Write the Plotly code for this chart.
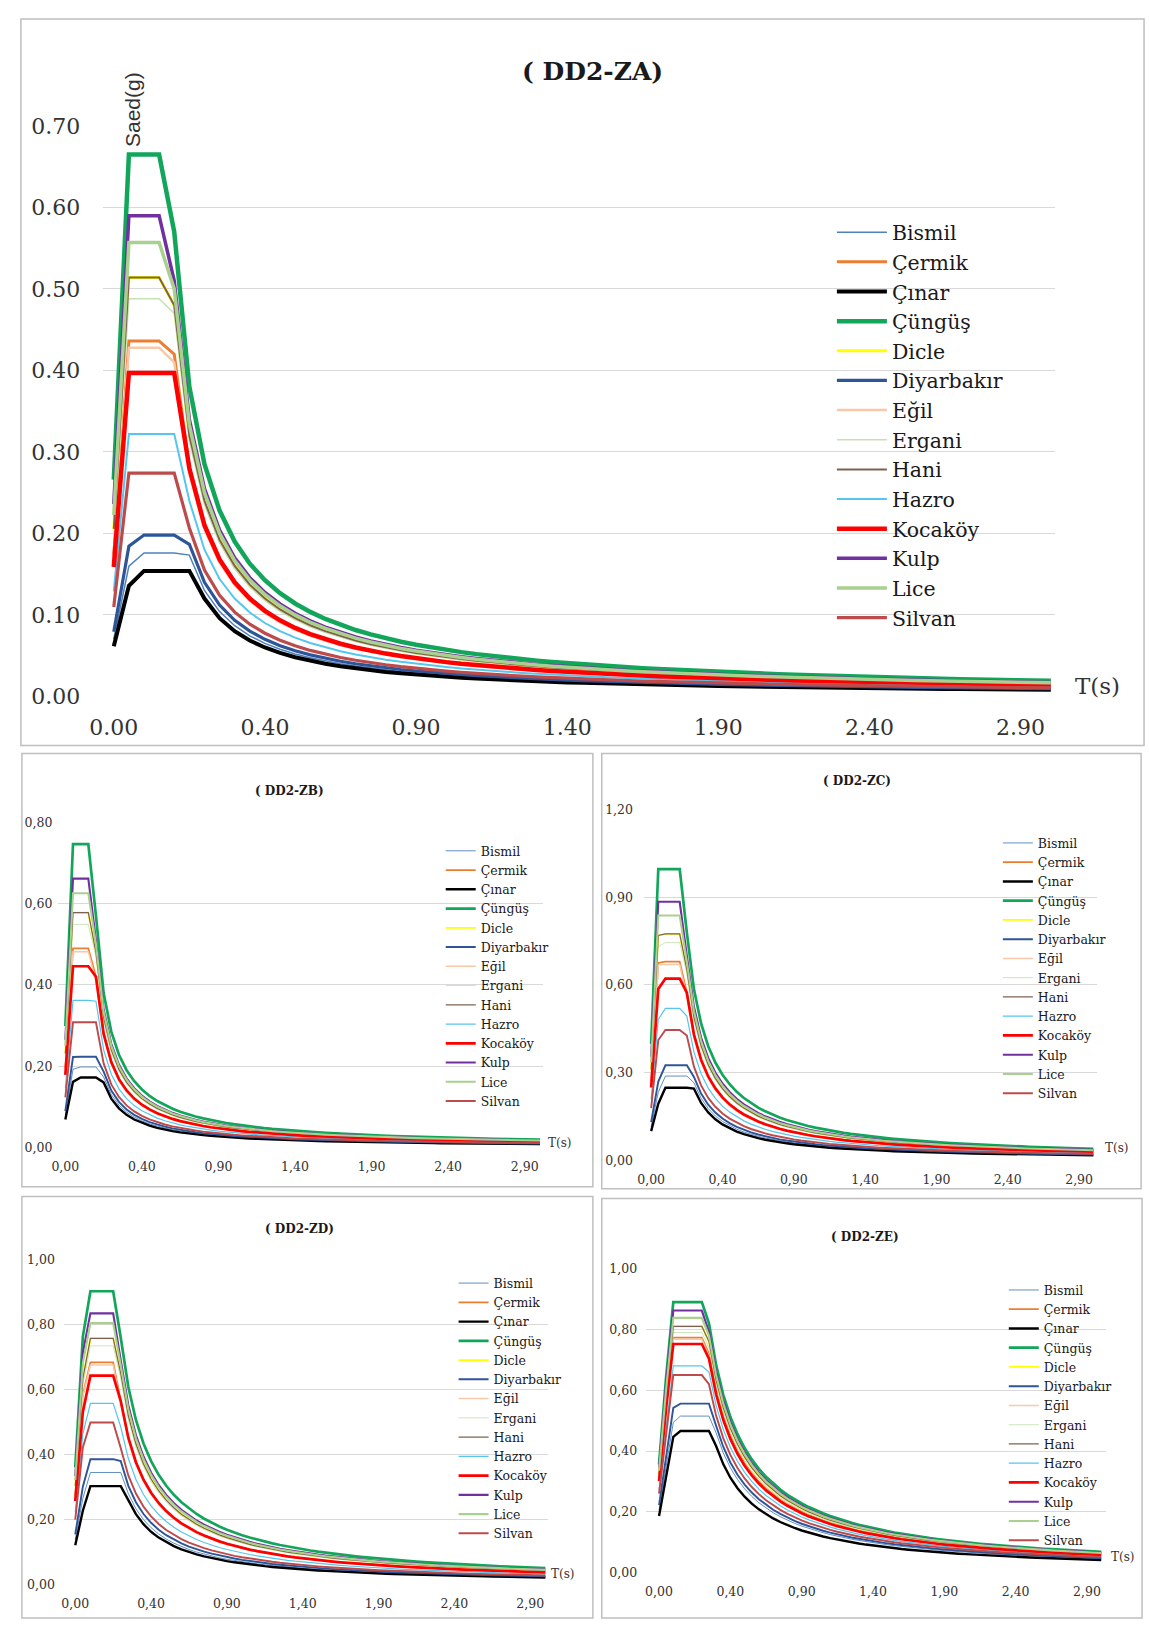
import plotly.graph_objects as go

# ---------------------------------------------------------------------------
# Elastic design spectra (DD2 level) for the districts of Diyarbakır,
# one panel per local soil class (ZA ... ZE).
# ---------------------------------------------------------------------------

CITIES = ["Bismil", "Çermik", "Çınar", "Çüngüş", "Dicle", "Diyarbakır", "Eğil",
          "Ergani", "Hani", "Hazro", "Kocaköy", "Kulp", "Lice", "Silvan"]

# Period values used as the (category) x axis of every panel, in seconds
PERIODS = [0.00, 0.025, 0.05, 0.075, 0.10, 0.15, 0.20, 0.25, 0.30, 0.35, 0.40,
           0.45, 0.50, 0.55, 0.60, 0.65, 0.70, 0.75, 0.80, 0.85, 0.90,
           0.95, 1.00, 1.05, 1.10, 1.15, 1.20, 1.25, 1.30, 1.35, 1.40,
           1.45, 1.50, 1.55, 1.60, 1.65, 1.70, 1.75, 1.80, 1.85, 1.90,
           1.95, 2.00, 2.05, 2.10, 2.15, 2.20, 2.25, 2.30, 2.35, 2.40,
           2.45, 2.50, 2.55, 2.60, 2.65, 2.70, 2.75, 2.80, 2.85, 2.90,
           2.95, 3.00]
TL = 6.0  # long-period transition, s

# Short-period (SDS) and 1-second (SD1) design spectral accelerations, g
SDS_ZA = [0.176, 0.436, 0.154, 0.665, 0.514, 0.198, 0.428, 0.488, 0.514, 0.322, 0.397, 0.590, 0.557, 0.274]
SD1_ZA = [0.026, 0.042, 0.024, 0.057, 0.048, 0.028, 0.041, 0.047, 0.048, 0.036, 0.042, 0.051, 0.050, 0.031]

SDS_ZB = [0.198, 0.490, 0.172, 0.747, 0.578, 0.223, 0.482, 0.549, 0.578, 0.362, 0.446, 0.662, 0.626, 0.308]
SD1_ZB = [0.026, 0.042, 0.024, 0.057, 0.048, 0.028, 0.041, 0.047, 0.048, 0.036, 0.042, 0.051, 0.050, 0.031]

SDS_ZC = [0.288, 0.680, 0.248, 0.997, 0.775, 0.325, 0.670, 0.745, 0.775, 0.520, 0.622, 0.885, 0.838, 0.446]
SD1_ZC = [0.053, 0.086, 0.049, 0.117, 0.098, 0.057, 0.084, 0.096, 0.098, 0.074, 0.086, 0.105, 0.102, 0.064]

SDS_ZD = [0.345, 0.684, 0.303, 0.903, 0.758, 0.386, 0.676, 0.735, 0.758, 0.558, 0.643, 0.835, 0.805, 0.499]
SD1_ZD = [0.070, 0.113, 0.065, 0.152, 0.130, 0.076, 0.111, 0.127, 0.130, 0.097, 0.113, 0.138, 0.135, 0.084]

SDS_ZE = [0.515, 0.773, 0.466, 0.890, 0.810, 0.556, 0.768, 0.790, 0.810, 0.680, 0.752, 0.862, 0.838, 0.650]
SD1_ZE = [0.138, 0.180, 0.125, 0.205, 0.190, 0.145, 0.178, 0.185, 0.190, 0.165, 0.176, 0.198, 0.195, 0.155]

X_TICK_IDX = [0, 10, 20, 30, 40, 50, 60]

COLORS = ["#4F81BD", "#ED7D31", "#000000", "#12A65A", "#FFFF00", "#2E5597", "#F8C8A8",
          "#C6E2B4", "#7F6050", "#55C6F0", "#FF0000", "#7030A0", "#A9D08E", "#BE4B4B"]
WIDTHS = [1.5, 3.0, 4.0, 4.5, 3.0, 3.2, 2.5, 1.5, 2.0, 2.0, 4.5, 3.5, 3.5, 3.2]


def design_spectrum(sds, sd1):
    """Horizontal elastic design spectrum Sae(T) on the PERIODS grid."""
    tb = sd1 / sds
    ta = 0.2 * tb
    values = []
    for t in PERIODS:
        if t < ta:
            values.append((0.4 + 0.6 * t / ta) * sds)
        elif t <= tb:
            values.append(sds)
        elif t <= TL:
            values.append(sd1 / t)
        else:
            values.append(sd1 * TL / t ** 2)
    return values


W, H = 1149, 1632
categories = [f"{t:.3f}" for t in PERIODS]


def px_x(v):
    return v / W


def px_y(v):
    return 1 - v / H


SERIF = "DejaVu Serif"
TEXT = "#333333"

panels = [
    dict(title="( DD2-ZA)", sds=SDS_ZA, sd1=SD1_ZA, sep=".", ymax=0.70, dtick=0.10,
         xdom=(90.3, 1054.2), ydom=(695, 115.5), xr=(-0.7, 62.3),
         frame=(7, 7, 1144, 745), title_xy=(586, 60), title_size=25,
         ts_xy=(1097, 684), ts_size=23, tick_size=22, y_std=22, x_std=16,
         leg_xy=(828, 203.5), leg_size=20.5, leg_iw=50, wscale=1.0),
    dict(title="( DD2-ZB)", sds=SDS_ZB, sd1=SD1_ZB, sep=",", ymax=0.80, dtick=0.20,
         xdom=(45.0, 535.6), ydom=(1153, 823), xr=(-0.9, 62.4),
         frame=(8, 753, 586, 1193), title_xy=(279, 791), title_size=12,
         ts_xy=(553, 1149), ts_size=12, tick_size=12.5, y_std=5, x_std=10,
         leg_xy=(432, 837), leg_size=12.5, leg_iw=30, wscale=0.6),
    dict(title="( DD2-ZC)", sds=SDS_ZC, sd1=SD1_ZC, sep=",", ymax=1.20, dtick=0.30,
         xdom=(637.8, 1096.3), ydom=(1166, 810), xr=(-1.0, 62.5),
         frame=(595, 753, 1141, 1195), title_xy=(853, 781), title_size=12,
         ts_xy=(1117, 1154), ts_size=12, tick_size=12.5, y_std=10, x_std=10,
         leg_xy=(996, 829), leg_size=12.5, leg_iw=30, wscale=0.6),
    dict(title="( DD2-ZD)", sds=SDS_ZD, sd1=SD1_ZD, sep=",", ymax=1.00, dtick=0.20,
         xdom=(50.5, 541.0), ydom=(1597, 1267), xr=(-1.5, 62.4),
         frame=(8, 1203, 586, 1631), title_xy=(289, 1236), title_size=12,
         ts_xy=(556, 1586), ts_size=12, tick_size=12.5, y_std=8, x_std=10,
         leg_xy=(445, 1276), leg_size=12.5, leg_iw=30, wscale=0.6),
    dict(title="( DD2-ZE)", sds=SDS_ZE, sd1=SD1_ZE, sep=",", ymax=1.00, dtick=0.20,
         xdom=(640.0, 1105.0), ydom=(1585, 1276), xr=(-1.8, 62.6),
         frame=(595, 1205, 1142, 1631), title_xy=(861, 1244), title_size=12,
         ts_xy=(1123, 1569), ts_size=12, tick_size=12.5, y_std=8, x_std=10,
         leg_xy=(1002, 1283), leg_size=12.5, leg_iw=30, wscale=0.6),
]

fig = go.Figure()
shapes, annotations = [], []
layout = {}

for k, p in enumerate(panels):
    sfx = "" if k == 0 else str(k + 1)
    xname, yname, lname = "x" + sfx, "y" + sfx, "legend" + sfx

    for i, city in enumerate(CITIES):
        fig.add_trace(go.Scatter(
            x=categories, y=design_spectrum(p["sds"][i], p["sd1"][i]),
            mode="lines", name=city,
            line=dict(color=COLORS[i], width=WIDTHS[i] * p["wscale"]),
            xaxis=xname, yaxis=yname, legend=lname, hoverinfo="skip"))

    nticks = int(round(p["ymax"] / p["dtick"]))
    yvals = [round(j * p["dtick"], 2) for j in range(nticks + 1)]
    ytext = [f"{v:.2f}".replace(".", p["sep"]) for v in yvals]
    xtext = [f"{PERIODS[j]:.2f}".replace(".", p["sep"]) for j in X_TICK_IDX]

    layout["xaxis" + sfx] = dict(
        domain=[px_x(p["xdom"][0]), px_x(p["xdom"][1])], anchor=yname,
        type="category", categoryorder="array", categoryarray=categories,
        range=list(p["xr"]), tickvals=[categories[j] for j in X_TICK_IDX],
        ticktext=xtext, showgrid=False, zeroline=False, showline=False,
        ticks="", ticklabelstandoff=p["x_std"],
        tickfont=dict(family=SERIF, size=p["tick_size"], color=TEXT), fixedrange=True)
    layout["yaxis" + sfx] = dict(
        domain=[px_y(p["ydom"][0]), px_y(p["ydom"][1])], anchor=xname,
        range=[0, p["ymax"] * 1.0005], tickvals=yvals, ticktext=ytext,
        showgrid=True, gridcolor="#D9D9D9", gridwidth=1, zeroline=False,
        showline=False, ticks="", ticklabelstandoff=p["y_std"],
        tickfont=dict(family=SERIF, size=p["tick_size"], color=TEXT), fixedrange=True)
    layout[lname] = dict(
        x=px_x(p["leg_xy"][0]), y=px_y(p["leg_xy"][1]), xanchor="left", yanchor="top",
        bgcolor="rgba(0,0,0,0)", borderwidth=0, itemwidth=p["leg_iw"],
        tracegroupgap=0, itemclick=False, itemdoubleclick=False,
        font=dict(family=SERIF, size=p["leg_size"], color="#1A1A1A"))

    x0, y0, x1, y1 = p["frame"]
    shapes.append(dict(type="rect", xref="paper", yref="paper",
                       x0=px_x(x0), x1=px_x(x1), y0=px_y(y1), y1=px_y(y0),
                       line=dict(color="#BFBFBF", width=1.5), layer="below"))
    annotations.append(dict(text="<b>" + p["title"] + "</b>", xref="paper", yref="paper",
                            x=px_x(p["title_xy"][0]), y=px_y(p["title_xy"][1]),
                            xanchor="center", yanchor="middle", showarrow=False,
                            font=dict(family=SERIF, size=p["title_size"], color="#1A1A1A")))
    annotations.append(dict(text="T(s)", xref="paper", yref="paper",
                            x=px_x(p["ts_xy"][0]), y=px_y(p["ts_xy"][1]),
                            xanchor="center", yanchor="middle", showarrow=False,
                            font=dict(family=SERIF, size=p["ts_size"], color=TEXT)))

# Vertical axis title of the main panel
annotations.append(dict(text="Saed(g)", xref="paper", yref="paper",
                        x=px_x(120), y=px_y(99), xanchor="center", yanchor="middle",
                        textangle=-90, showarrow=False,
                        font=dict(family="Liberation Sans", size=21, color=TEXT)))

fig.update_layout(
    width=W, height=H, margin=dict(l=0, r=0, t=0, b=0),
    paper_bgcolor="white", plot_bgcolor="white",
    shapes=shapes, annotations=annotations, showlegend=True,
    **layout)

fig.write_html("out.html", config={"displayModeBar": False})
